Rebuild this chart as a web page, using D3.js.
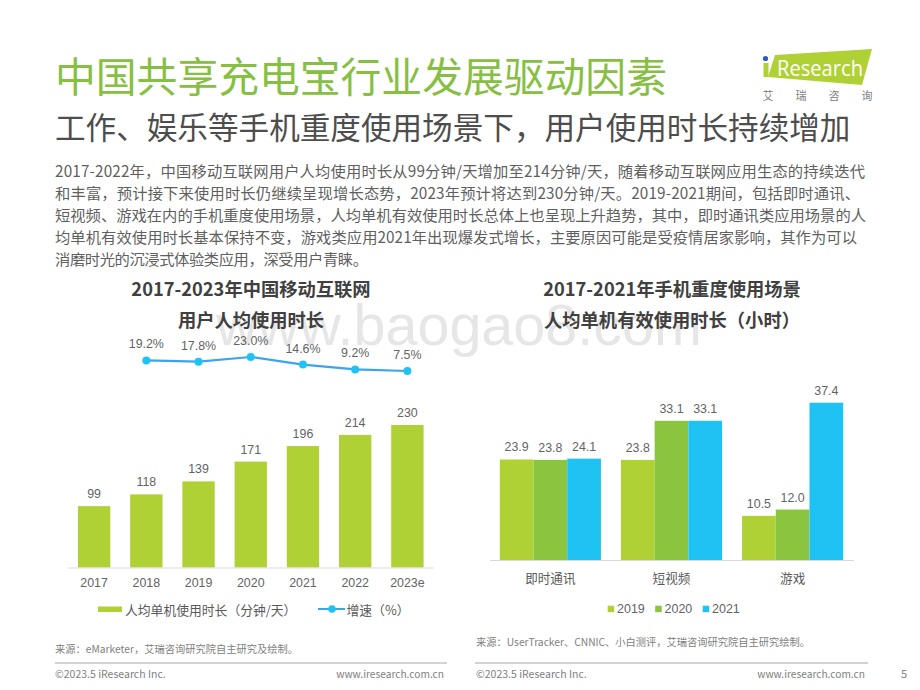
<!DOCTYPE html>
<html>
<head>
<meta charset="utf-8">
<script src="https://cdn.jsdelivr.net/npm/d3@7"></script>
<style>
  html, body { margin: 0; padding: 0; background: #fff; }
  text { font-family: "Noto Sans CJK SC", "Liberation Sans", sans-serif; }
  .num { font-family: "Liberation Sans", sans-serif; }
</style>
</head>
<body>
<div id="chart"></div>
<script>
// left chart data
var years = ["2017", "2018", "2019", "2020", "2021", "2022", "2023e"];
var usageMinutes = [99, 118, 139, 171, 196, 214, 230];
var growthRate = [19.2, 17.8, 23.0, 14.6, 9.2, 7.5];

// right chart data
var scenes = ["即时通讯", "短视频", "游戏"];
var sceneYears = ["2019", "2020", "2021"];
var hours2019 = [23.9, 23.8, 10.5];
var hours2020 = [23.8, 33.1, 12.0];
var hours2021 = [24.1, 33.1, 37.4];

var bodyLines = [
  "2017-2022年，中国移动互联网用户人均使用时长从99分钟/天增加至214分钟/天，随着移动互联网应用生态的持续迭代",
  "和丰富，预计接下来使用时长仍继续呈现增长态势，2023年预计将达到230分钟/天。2019-2021期间，包括即时通讯、",
  "短视频、游戏在内的手机重度使用场景，人均单机有效使用时长总体上也呈现上升趋势，其中，即时通讯类应用场景的人",
  "均单机有效使用时长基本保持不变，游戏类应用2021年出现爆发式增长，主要原因可能是受疫情居家影响，其作为可以",
  "消磨时光的沉浸式体验类应用，深受用户青睐。"
];
// rendered width of each body line in the reference
var bodyWidths = [810, 805, 811, 802, 313];

var width = 920, height = 690;
var svg = d3.select("#chart").append("svg")
    .attr("width", width)
    .attr("height", height)
    .style("display", "block");

var GREEN = "#afd135", MID = "#8bc43f", BLUE = "#1fc3f3", TEXT = "#595959", LABEL = "#636363";

function label(x, y, str, size, opts) {
    opts = opts || {};
    return svg.append("text")
        .attr("x", x)
        .attr("y", y)
        .attr("text-anchor", opts.anchor || "start")
        .attr("class", opts.cls || null)
        .style("font-size", size + "px")
        .style("font-weight", opts.weight || "normal")
        .style("fill", opts.fill || TEXT)
        .text(str);
}

// watermark goes under everything
label(459, 345, "www.baogao8.com", 57.5, { anchor: "middle", cls: "num", fill: "#e6e6e6" });

// headings
label(55, 92, "中国共享充电宝行业发展驱动因素", 40.8, { fill: "#86bf41" });
label(55, 138.5, "工作、娱乐等手机重度使用场景下，用户使用时长持续增加", 30.6, { fill: "#4d4d4d" });

bodyLines.forEach(function(line, i) {
    label(55, 177 + i * 22, line, 15.3, { fill: "#5f5f5f" })
        .attr("textLength", bodyWidths[i])
        .attr("lengthAdjust", "spacing");
});

// logo
svg.append("path")
    .attr("d", "M775 55 L872 49 L862 85 L768 77 Z")
    .style("fill", GREEN);
svg.append("rect").attr("x", 763.5).attr("y", 63).attr("width", 5).attr("height", 14).style("fill", GREEN);
svg.append("circle").attr("cx", 765.5).attr("cy", 58.5).attr("r", 2.6).style("fill", "#2f5db0");
label(777, 75.5, "Research", 22, { fill: "#fff" })
    .style("font-family", "'Open Sans', sans-serif")
    .attr("textLength", 86)
    .attr("lengthAdjust", "spacingAndGlyphs");
["艾", "瑞", "咨", "询"].forEach(function(c, i) {
    label(768 + i * 33, 100, c, 11, { anchor: "middle", fill: "#808080" });
});

// chart titles
label(251, 295.5, "2017-2023年中国移动互联网", 18.3, { anchor: "middle", weight: "bold", fill: "#404040" });
label(251, 326.5, "用户人均使用时长", 18.3, { anchor: "middle", weight: "bold", fill: "#404040" });
label(672, 295.5, "2017-2021年手机重度使用场景", 18.3, { anchor: "middle", weight: "bold", fill: "#404040" });
label(672, 326.5, "人均单机有效使用时长（小时）", 18.3, { anchor: "middle", weight: "bold", fill: "#404040" });

// left chart: bars
var x1 = d3.scaleBand().domain(years).range([68, 433.5]).paddingInner(0.38).paddingOuter(0.19);
var y1 = d3.scaleLinear().domain([0, 230]).range([567.5, 425]);

svg.selectAll(".usage-bar").data(usageMinutes).enter().append("rect")
    .attr("class", "usage-bar")
    .attr("x", function(d, i) { return x1(years[i]); })
    .attr("y", function(d) { return y1(d); })
    .attr("width", x1.bandwidth())
    .attr("height", function(d) { return y1(0) - y1(d); })
    .style("fill", GREEN);

svg.selectAll(".usage-label").data(usageMinutes).enter().append("text")
    .attr("class", "usage-label num")
    .attr("x", function(d, i) { return x1(years[i]) + x1.bandwidth() / 2; })
    .attr("y", function(d) { return y1(d) - 8; })
    .attr("text-anchor", "middle")
    .style("font-size", "12.4px")
    .style("fill", LABEL)
    .text(function(d) { return d; });

var axis1 = svg.append("g")
    .attr("transform", "translate(0,567.5)")
    .call(d3.axisBottom(x1).tickSize(0).tickPadding(10.5));
axis1.select(".domain").style("stroke", "#d9d9d9");
axis1.selectAll("text").attr("class", "num").style("font-size", "12.4px").style("fill", LABEL);

// left chart: growth line, one point per year up to 2022 sits in the 2018..2023e slots
var yGrowth = d3.scaleLinear().domain([7.5, 23]).range([371, 357]);
var growthYears = years.slice(1);
var growthX = function(d, i) { return x1(growthYears[i]) + x1.bandwidth() / 2; };

svg.append("path")
    .datum(growthRate)
    .attr("d", d3.line().x(growthX).y(function(d) { return yGrowth(d); }))
    .style("fill", "none")
    .style("stroke", "#3aa5ee")
    .style("stroke-width", 2.2);

svg.selectAll(".growth-dot").data(growthRate).enter().append("circle")
    .attr("class", "growth-dot")
    .attr("cx", growthX)
    .attr("cy", function(d) { return yGrowth(d); })
    .attr("r", 4)
    .style("fill", BLUE);

svg.selectAll(".growth-label").data(growthRate).enter().append("text")
    .attr("class", "growth-label num")
    .attr("x", growthX)
    .attr("y", function(d) { return yGrowth(d) - 12; })
    .attr("text-anchor", "middle")
    .style("font-size", "12.4px")
    .style("fill", LABEL)
    .text(function(d) { return d.toFixed(1) + "%"; });

// left legend
svg.append("rect").attr("x", 98).attr("y", 606.5).attr("width", 24).attr("height", 5.5).style("fill", GREEN);
label(125, 614.5, "人均单机使用时长（分钟/天）", 12.8);
svg.append("line").attr("x1", 318).attr("x2", 345).attr("y1", 609).attr("y2", 609)
    .style("stroke", "#3aa5ee").style("stroke-width", 2);
svg.append("circle").attr("cx", 332).attr("cy", 609).attr("r", 3.8).style("fill", BLUE);
label(346.5, 614.5, "增速（%）", 12.8);

// right chart: grouped bars
var x2 = d3.scaleBand().domain(scenes).range([489.5, 853.5]).paddingInner(0.165).paddingOuter(0.085);
var x2inner = d3.scaleBand().domain(sceneYears).range([0, x2.bandwidth()]);
var y2 = d3.scaleLinear().domain([0, 37.4]).range([560, 402.7]);
var colors2 = d3.scaleOrdinal().domain(sceneYears).range([GREEN, MID, BLUE]);
var seriesRows = [hours2019, hours2020, hours2021];

sceneYears.forEach(function(yr, s) {
    svg.selectAll(".hours-bar-" + yr).data(seriesRows[s]).enter().append("rect")
        .attr("class", "hours-bar-" + yr)
        .attr("x", function(d, i) { return x2(scenes[i]) + x2inner(yr); })
        .attr("y", function(d) { return y2(d); })
        .attr("width", x2inner.bandwidth())
        .attr("height", function(d) { return y2(0) - y2(d); })
        .style("fill", colors2(yr));

    svg.selectAll(".hours-label-" + yr).data(seriesRows[s]).enter().append("text")
        .attr("class", "hours-label-" + yr + " num")
        .attr("x", function(d, i) { return x2(scenes[i]) + x2inner(yr) + x2inner.bandwidth() / 2; })
        .attr("y", function(d) { return y2(d) - 8; })
        .attr("text-anchor", "middle")
        .style("font-size", "12.4px")
        .style("fill", LABEL)
        .text(function(d) { return d.toFixed(1); });
});

var axis2 = svg.append("g")
    .attr("transform", "translate(0,560)")
    .call(d3.axisBottom(x2).tickSize(0).tickPadding(14.5));
axis2.select(".domain").style("stroke", "#d9d9d9");
axis2.selectAll("text").style("font-size", "12.6px").style("fill", TEXT);

// right legend
sceneYears.forEach(function(yr, i) {
    var lx = 607.7 + i * 47.5;
    svg.append("rect").attr("x", lx).attr("y", 605.7).attr("width", 6.5).attr("height", 6.5).style("fill", colors2(yr));
    label(lx + 9.3, 613.4, yr, 12.5, { cls: "num", fill: LABEL });
});

// sources and footer
label(55, 652.5, "来源：eMarketer，艾瑞咨询研究院自主研究及绘制。", 10.25, { fill: "#808080" });
label(476, 646, "来源：UserTracker、CNNIC、小白测评，艾瑞咨询研究院自主研究绘制。", 10.25, { fill: "#808080" });

[[55, 447], [475, 868]].forEach(function(r) {
    svg.append("line").attr("x1", r[0]).attr("x2", r[1]).attr("y1", 663).attr("y2", 663)
        .style("stroke", "#a6a6a6").style("stroke-width", 1);
});
label(55, 678, "©2023.5 iResearch Inc.", 10.5, { fill: "#808080" });
label(444, 678, "www.iresearch.com.cn", 10.2, { anchor: "end", fill: "#808080" });
label(476, 678, "©2023.5 iResearch Inc.", 10.5, { fill: "#808080" });
label(865, 678, "www.iresearch.com.cn", 10.2, { anchor: "end", fill: "#808080" });
label(901, 678, "5", 11, { fill: "#808080" });
</script>
</body>
</html>
